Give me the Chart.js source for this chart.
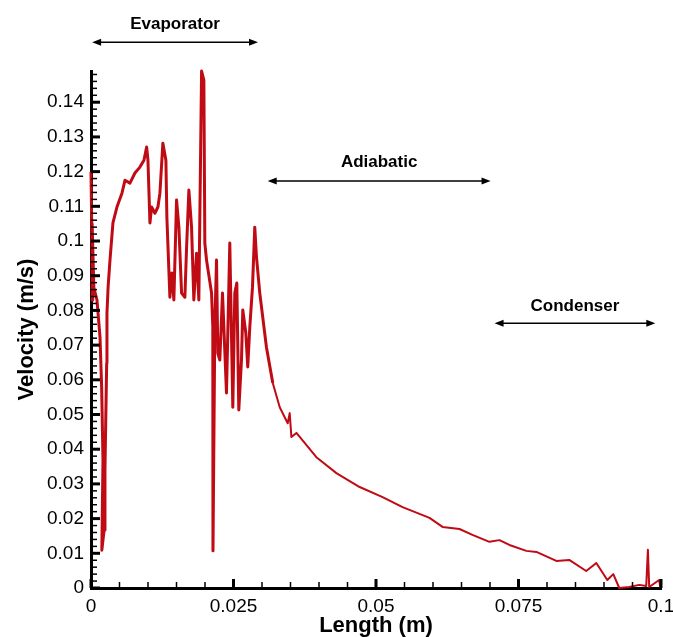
<!DOCTYPE html>
<html>
<head>
<meta charset="utf-8">
<script src="https://cdn.jsdelivr.net/npm/chart.js@4"></script>
<style>
  body { margin: 0; background: #fff; }
  #wrap { width: 673px; height: 637px; }
</style>
</head>
<body>
<div id="wrap"><canvas id="velocity" width="673" height="637"></canvas></div>
<script>
// positions along the pipe (m) and velocity (m/s)
let lengthX = [
  0, 0.0003, 0.0002, 0.0005, 0.00105, 0.00158, 0.00187, 0.0021, 0.0019, 0.0023,
  0.00245, 0.00275, 0.0028, 0.003, 0.00333, 0.00385, 0.00455, 0.00543, 0.00596, 0.00683,
  0.00771, 0.00858, 0.00929, 0.00976, 0.00999, 0.01034, 0.01063, 0.01121, 0.01174, 0.01209,
  0.01261, 0.01314, 0.01331, 0.01384, 0.01419, 0.01454, 0.01501, 0.01542, 0.01589, 0.01647,
  0.01677, 0.01717, 0.01764, 0.01804, 0.01852, 0.01892, 0.0194, 0.0198, 0.01997, 0.02027,
  0.02115, 0.02137, 0.0214, 0.02172, 0.02202, 0.02225, 0.0226, 0.02307, 0.02377, 0.02435,
  0.02488, 0.02523, 0.02558, 0.02593, 0.0264, 0.02663, 0.02716, 0.0275, 0.02786, 0.02833,
  0.02873, 0.02903, 0.02961, 0.03078, 0.03189, 0.03311, 0.03451, 0.03486, 0.03516, 0.03604,
  0.03954, 0.04305, 0.04713, 0.05116, 0.05466, 0.05939, 0.06167, 0.06465, 0.06692, 0.0699,
  0.07166, 0.07341, 0.07638, 0.07814, 0.08164, 0.0839, 0.08688, 0.08865, 0.09058, 0.09163,
  0.09268, 0.09443, 0.09618, 0.09741, 0.0977, 0.09793, 0.09968, 0.0999
];
let velocity = [
  0.1199, 0.083, 0.105, 0.0866, 0.083, 0.0723, 0.0579, 0.0369, 0.0109, 0.0167,
  0.034, 0.0648, 0.0792, 0.0867, 0.0945, 0.1052, 0.1098, 0.1138, 0.1175, 0.1167,
  0.1196, 0.1213, 0.1233, 0.1271, 0.1233, 0.1052, 0.1098, 0.108, 0.1098, 0.1138,
  0.1282, 0.1233, 0.1069, 0.0838, 0.0908, 0.083, 0.1118, 0.104, 0.085, 0.0838,
  0.0982, 0.1147, 0.104, 0.083, 0.0965, 0.083, 0.149, 0.1464, 0.0994, 0.0945,
  0.085, 0.0752, 0.0107, 0.0752, 0.0945, 0.0677, 0.0657, 0.085, 0.0562, 0.0994,
  0.0521, 0.085, 0.0879, 0.0513, 0.0657, 0.0801, 0.0735, 0.0637, 0.0752, 0.0867,
  0.104, 0.0954, 0.085, 0.0694, 0.0591, 0.0521, 0.0475, 0.0504, 0.0435, 0.0447,
  0.0377, 0.0331, 0.0291, 0.0262, 0.0233, 0.0202, 0.0176, 0.017, 0.0153, 0.0133,
  0.0138, 0.0124, 0.0107, 0.0104, 0.0078, 0.0081, 0.0049, 0.0072, 0.0023, 0.004,
  0, 0.0003, 0.0009, 0.0006, 0.011, 0.0003, 0.0023, 0
];
let xTicks = [0, 0.025, 0.05, 0.075, 0.1];

// region labels with their double arrows (data coordinates)
let regions = [
  { name: 'Evaporator', from: 0.0002, to: 0.0293, y: 0.1573, ty: 0.1625 },
  { name: 'Adiabatic', from: 0.031, to: 0.0701, y: 0.1173, ty: 0.1228 },
  { name: 'Condenser', from: 0.0708, to: 0.099, y: 0.0763, ty: 0.0812 }
];

const pts = lengthX.map((x, i) => ({ x: x, y: velocity[i] }));

function fmt(v) {
  return String(Number(v.toFixed(4)));
}

// tecplot-like inward ticks, drawn from the scales
const innerTicks = {
  id: 'innerTicks',
  afterDraw(chart) {
    const ctx = chart.ctx;
    const xs = chart.scales.x, ys = chart.scales.y;
    const left = xs.left, bottom = ys.bottom;
    ctx.save();
    ctx.strokeStyle = '#000';
    for (let k = 0; k <= 74; k++) {
      const v = k * 0.002;
      const major = k % 5 === 0;
      const py = ys.getPixelForValue(v);
      ctx.lineWidth = major ? 3 : 1.5;
      ctx.beginPath();
      ctx.moveTo(left, py);
      ctx.lineTo(left + (major ? 9 : 6), py);
      ctx.stroke();
    }
    for (let k = 0; k <= 20; k++) {
      const v = k * 0.005;
      const major = k % 5 === 0;
      const px = xs.getPixelForValue(v);
      ctx.lineWidth = major ? 3 : 1.5;
      ctx.beginPath();
      ctx.moveTo(px, bottom);
      ctx.lineTo(px, bottom - (major ? 9 : 6));
      ctx.stroke();
    }
    ctx.restore();
  }
};

function arrowHead(ctx, x, y, dir) {
  ctx.beginPath();
  ctx.moveTo(x, y);
  ctx.lineTo(x - dir * 9, y - 3.5);
  ctx.lineTo(x - dir * 9, y + 3.5);
  ctx.closePath();
  ctx.fill();
}

const regionLabels = {
  id: 'regionLabels',
  afterDraw(chart) {
    const ctx = chart.ctx;
    const xs = chart.scales.x, ys = chart.scales.y;
    ctx.save();
    ctx.strokeStyle = '#000';
    ctx.fillStyle = '#000';
    ctx.lineWidth = 1.5;
    ctx.font = 'bold 17px "Liberation Sans", Arial, sans-serif';
    ctx.textAlign = 'center';
    ctx.textBaseline = 'middle';
    regions.forEach(r => {
      const x1 = xs.getPixelForValue(r.from);
      const x2 = xs.getPixelForValue(r.to);
      const y = ys.getPixelForValue(r.y);
      ctx.beginPath();
      ctx.moveTo(x1 + 4, y);
      ctx.lineTo(x2 - 4, y);
      ctx.stroke();
      arrowHead(ctx, x1, y, -1);
      arrowHead(ctx, x2, y, 1);
      ctx.fillText(r.name, (x1 + x2) / 2, ys.getPixelForValue(r.ty));
    });
    ctx.restore();
  }
};

const ctx = document.getElementById('velocity').getContext('2d');
const chart = new Chart(ctx, {
  type: 'line',
  data: {
    datasets: [{
      label: 'Velocity',
      data: pts,
      borderColor: 'rgb(192, 10, 20)',
      borderWidth: 3,
      borderJoinStyle: 'round',
      segment: {
        // thinner line once the flow settles down
        borderWidth: c => (c.p0.parsed.x > 0.031 ? 2 : 3)
      },
      pointRadius: 0,
      tension: 0,
      fill: false,
      clip: false
    }]
  },
  options: {
    responsive: false,
    animation: false,
    devicePixelRatio: 1,
    layout: { padding: { top: 71, right: 0, left: 0, bottom: 0 } },
    plugins: {
      legend: { display: false },
      tooltip: { enabled: false }
    },
    scales: {
      x: {
        type: 'linear',
        min: 0,
        max: 0.1,
        afterFit: s => { s.height = 49; s.paddingRight = 12; s.paddingLeft = 0; },
        afterBuildTicks: s => { s.ticks = xTicks.map(v => ({ value: v })); },
        grid: { display: false, drawTicks: false },
        border: { display: true, color: '#000', width: 3 },
        ticks: {
          color: '#000',
          padding: 7,
          maxRotation: 0,
          font: { family: '"Liberation Sans", Arial, sans-serif', size: 19 },
          callback: v => fmt(v)
        },
        title: {
          display: true,
          text: 'Length (m)',
          color: '#000',
          padding: { top: 0, bottom: 0 },
          font: { family: '"Liberation Sans", Arial, sans-serif', size: 22, weight: 'bold', lineHeight: 1 }
        }
      },
      y: {
        min: 0,
        max: 0.149,
        afterFit: s => { s.width = 91; },
        grid: { display: false, drawTicks: false },
        border: { display: true, color: '#000', width: 3 },
        ticks: {
          stepSize: 0.01,
          includeBounds: false,
          color: '#000',
          padding: 7,
          font: { family: '"Liberation Sans", Arial, sans-serif', size: 19 },
          callback: v => fmt(v)
        },
        title: {
          display: true,
          text: 'Velocity (m/s)',
          color: '#000',
          padding: { top: 14, bottom: 0 },
          font: { family: '"Liberation Sans", Arial, sans-serif', size: 22, weight: 'bold', lineHeight: 1.2 }
        }
      }
    }
  },
  plugins: [innerTicks, regionLabels]
});
</script>
</body>
</html>
